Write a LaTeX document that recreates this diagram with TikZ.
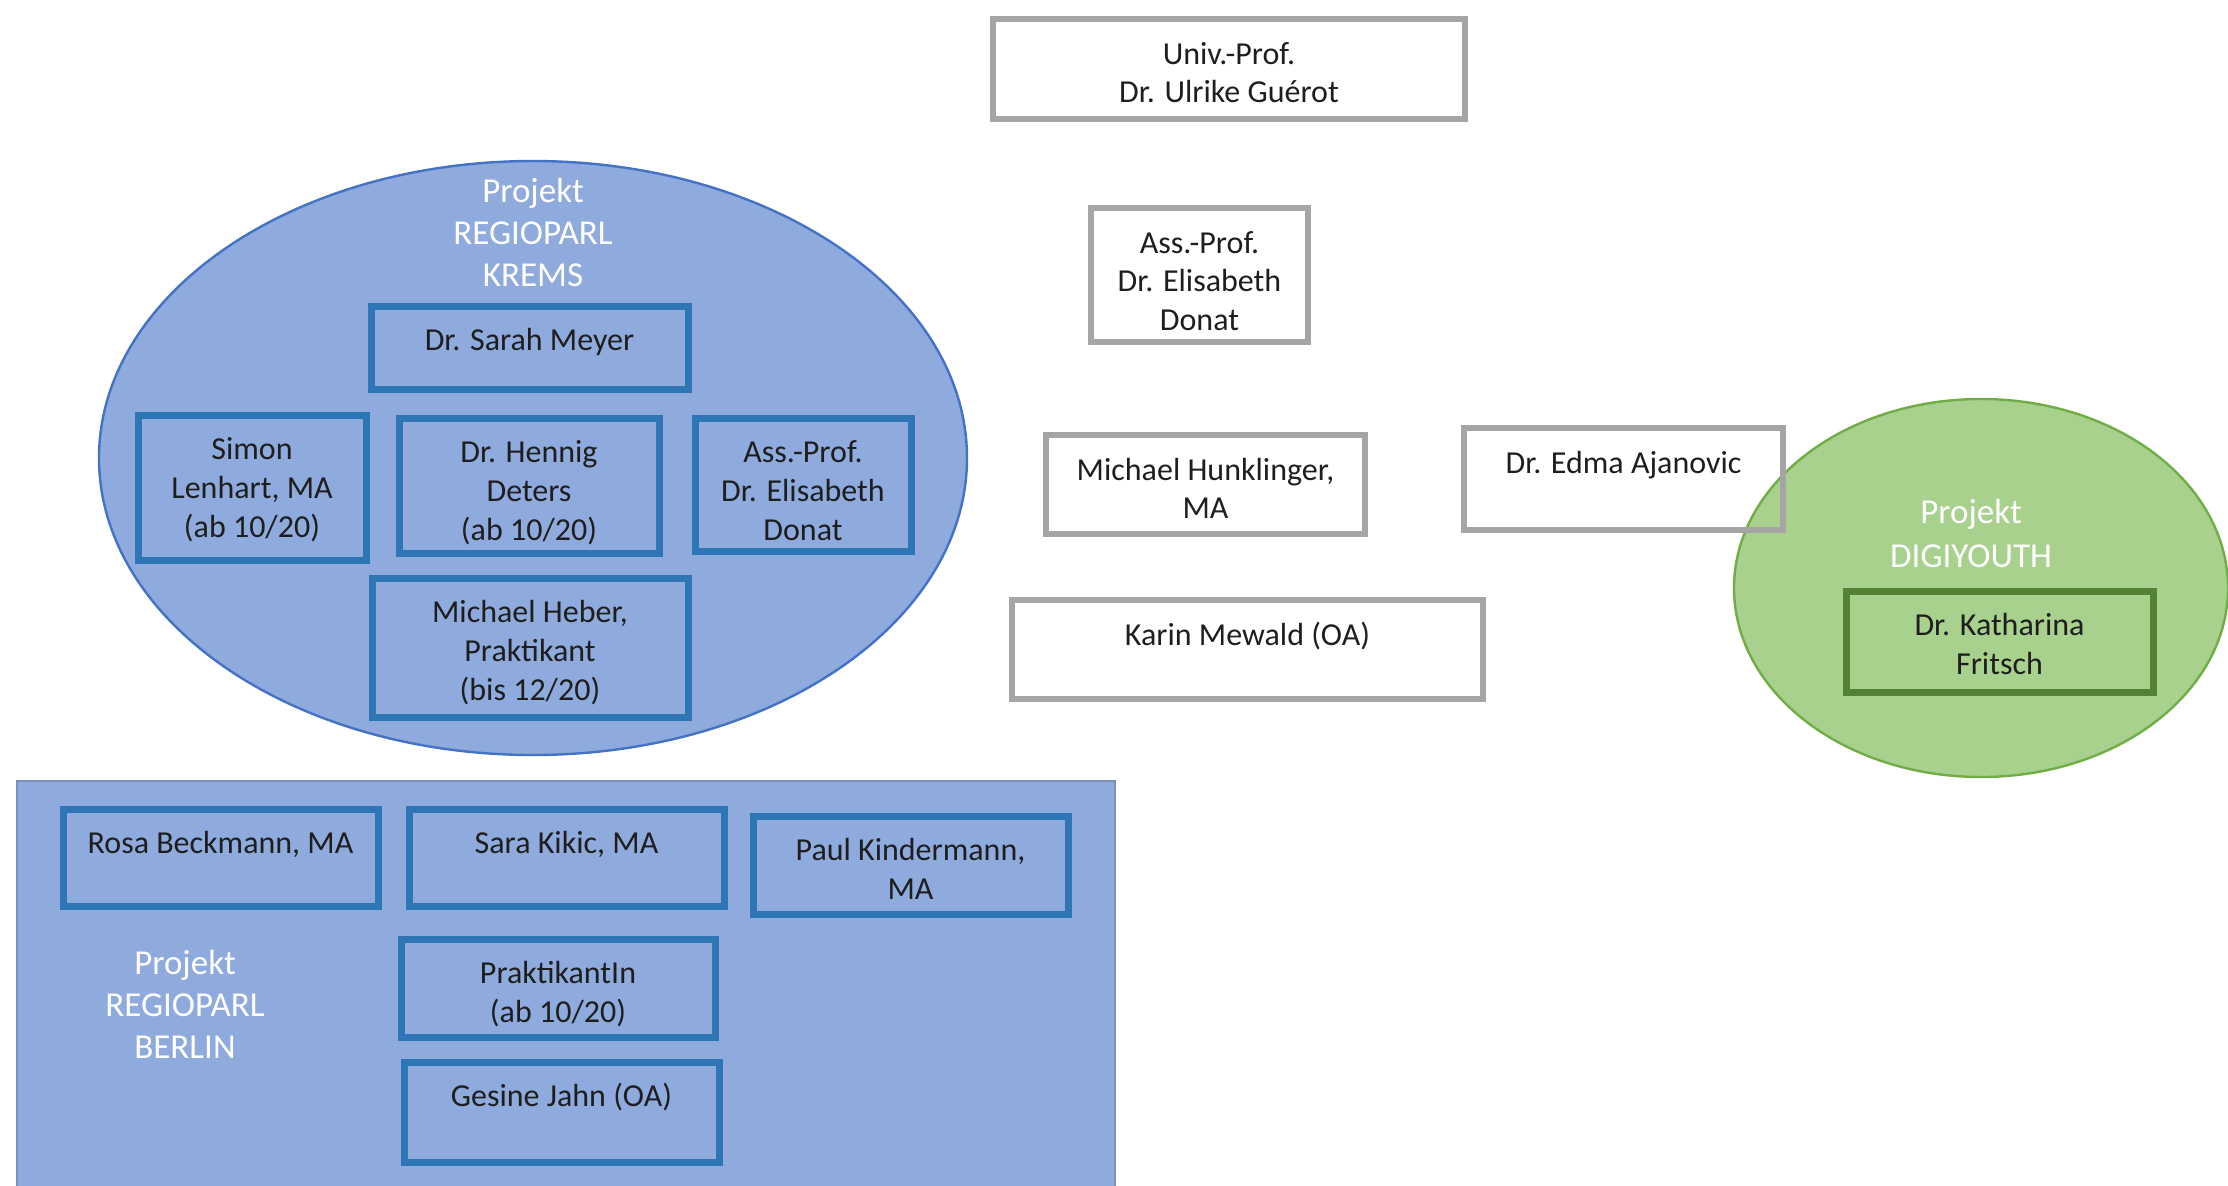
\documentclass[tikz,border=0pt]{standalone}
\usepackage{fontspec}
\setmainfont{Carlito}
\usetikzlibrary{shapes.geometric}
\definecolor{fillblue}{HTML}{8FAADC}
\definecolor{ellblue}{HTML}{4472C4}
\definecolor{boxblue}{HTML}{2E75B6}
\definecolor{fillgreen}{HTML}{A9D18E}
\definecolor{ellgreen}{HTML}{70AD47}
\definecolor{boxgreen}{HTML}{548235}
\definecolor{boxgrey}{HTML}{A5A5A5}
\definecolor{txtcol}{HTML}{1E1E1E}
\tikzset{
  bluebox/.style={rectangle, draw=boxblue, line width=3.5pt, inner sep=0pt},
  greybox/.style={rectangle, draw=boxgrey, line width=3pt, inner sep=0pt},
  greenbox/.style={rectangle, draw=boxgreen, line width=3.5pt, inner sep=0pt},
  txt/.style={font=\fontsize{16}{19.4}\selectfont, text=txtcol, align=center, inner sep=0pt, anchor=north},
  head/.style={font=\fontsize{17.5}{21}\selectfont, text=white, align=center, inner sep=0pt, anchor=north},
  projell/.style={ellipse, inner sep=0pt, line width=1.2pt},
}
% #1 name, #2 style, #3 cx, #4 cy, #5 half-width (pt), #6 half-height (pt), #7 text
\newcommand\mybox[7]{%
  \node[#2, minimum width=#5-3pt, minimum height=#6-3pt] (#1) at (#3,#4) {};
  \node[txt] (#1-t) at ([yshift=-10.3pt]#1.north) {\strut #7};
}
\begin{document}
\begin{tikzpicture}[x=0.5pt,y=-0.5pt]
\useasboundingbox (0,0) rectangle (2228,1185);
\begin{scope}
\clip (0,0) rectangle (2228,1185);
% ---------------- Krems ellipse
\node[projell, fill=fillblue, draw=ellblue, minimum width=434pt, minimum height=297pt] (krems) at (533,458) {};
\node[head] (kremshead) at (533,173) {\strut Projekt\\REGIOPARL\\KREMS};
\mybox{meyer}{bluebox}{529.5}{347.5}{161.5pt}{44.5pt}{Dr. Sarah Meyer}
\mybox{lenhart}{bluebox}{252}{487.5}{117pt}{75.5pt}{Simon\\Lenhart, MA\\(ab 10/20)}
\mybox{deters}{bluebox}{529}{485.5}{133pt}{70.5pt}{Dr. Hennig\\Deters\\(ab 10/20)}
\mybox{donatk}{bluebox}{803}{484.5}{111pt}{69.5pt}{Ass.-Prof.\\Dr. Elisabeth\\Donat}
\mybox{heber}{bluebox}{530}{647.5}{161pt}{72.5pt}{Michael Heber,\\Praktikant\\(bis 12/20)}
% ---------------- Berlin rectangle
\node[rectangle, fill=fillblue, draw=fillblue!85!black, line width=0.8pt, inner sep=0pt, anchor=north west, minimum width=549pt, minimum height=220pt] (berlin) at (16,780) {};
\node[head] (berlinhead) at (185,945) {\strut Projekt\\REGIOPARL\\BERLIN};
\mybox{rosa}{bluebox}{220.5}{857.5}{160.5pt}{51.5pt}{Rosa Beckmann, MA}
\mybox{kikic}{bluebox}{566.5}{857.5}{160.5pt}{51.5pt}{Sara Kikic, MA}
\mybox{kinder}{bluebox}{910.5}{865}{160.5pt}{52pt}{Paul Kindermann,\\MA}
\mybox{praktin}{bluebox}{558}{988}{160pt}{52pt}{PraktikantIn\\(ab 10/20)}
\mybox{jahn}{bluebox}{561.5}{1112}{160.5pt}{53pt}{Gesine Jahn (OA)}
% ---------------- Digiyouth ellipse
\node[projell, fill=fillgreen, draw=ellgreen, minimum width=247pt, minimum height=189pt] (digi) at (1981,588) {};
\node[head, font=\fontsize{17.5}{22}\selectfont] (digihead) at (1971,492) {\strut Projekt\\DIGIYOUTH};
\mybox{fritsch}{greenbox}{1999.5}{641.5}{156.5pt}{53.5pt}{Dr. Katharina\\Fritsch}
% ---------------- Grey boxes
\mybox{guerot}{greybox}{1229}{69}{239pt}{53pt}{Univ.-Prof.\\Dr. Ulrike Guérot}
\mybox{donat}{greybox}{1199.5}{275}{111.5pt}{70pt}{Ass.-Prof.\\Dr. Elisabeth\\Donat}
\mybox{hunk}{greybox}{1205.5}{484.5}{162.5pt}{52.5pt}{Michael Hunklinger,\\MA}
\mybox{ajan}{greybox}{1623.5}{479}{162.5pt}{54pt}{Dr. Edma Ajanovic}
\mybox{mewald}{greybox}{1247.5}{649.5}{238.5pt}{52.5pt}{Karin Mewald (OA)}
\end{scope}
\end{tikzpicture}
\end{document}
